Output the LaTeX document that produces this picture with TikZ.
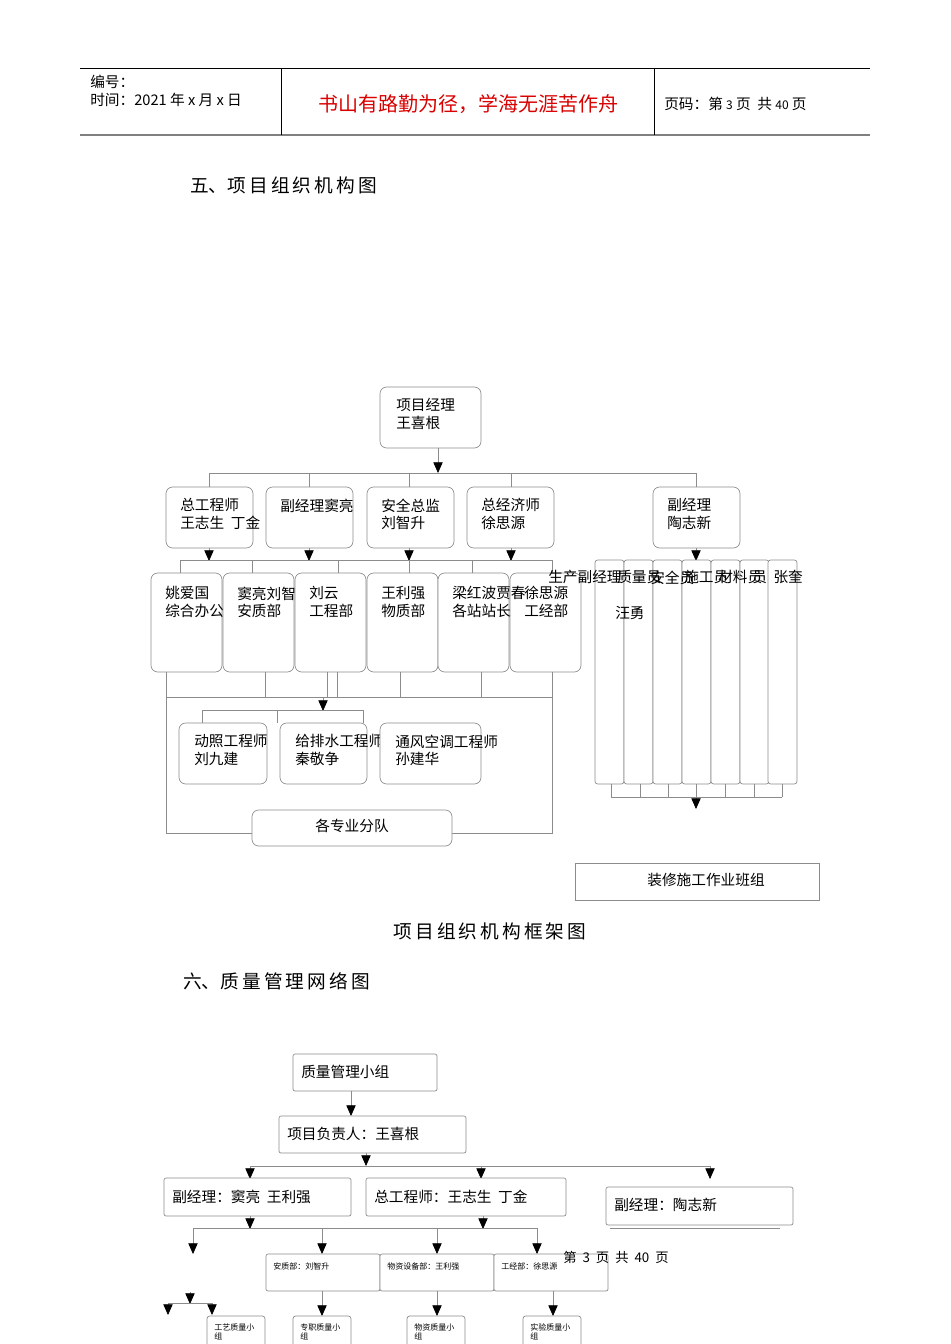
\documentclass[tikz,border=0pt]{standalone}
\usepackage{fontspec}
\setmainfont{Liberation Sans}
\newfontfamily\cjk{Noto Sans CJK SC}
\usetikzlibrary{arrows.meta}
\definecolor{ln}{gray}{0.55}
\tikzset{
  x=0.75pt,y=-0.75pt,
  every node/.style={font=\cjk\fontsize{11}{13}\selectfont},
  rbox/.style={draw=ln,fill=white,rounded corners=5pt,line width=0.5pt},
  sbox/.style={draw=ln,fill=white,line width=0.5pt},
  wire/.style={draw=ln,line width=0.5pt},
  arr/.style={draw=ln,line width=0.5pt,-{Triangle[width=7pt,length=8pt,fill=black,color=black]}},
  lbl/.style={anchor=north west,inner sep=0pt,align=left,yshift=-2.5pt},
  tiny/.style={anchor=north west,inner sep=0pt,align=left,font=\cjk\fontsize{6}{7}\selectfont},
}
\begin{document}
\begin{tikzpicture}
\useasboundingbox (0,0) rectangle (950,1344);
% header
\draw[line width=0.6pt] (80,68) -- (870,68);
\draw[line width=1.2pt,gray] (80,135) -- (870,135);
\draw[line width=0.5pt] (281,68) -- (281,135) (654,68) -- (654,135);
\node[lbl] (h1) at (90,71) {编号：};
\node[lbl] (h2) at (90,90) {时间：2021 年 x 月 x 日};
\node[font=\cjk\fontsize{15}{17}\selectfont,text=red!85!black] (h3) at (468,104) {书山有路勤为径，学海无涯苦作舟};
\node[lbl] (h4) at (664,94) {页码：第 {\fontsize{9}{10}\selectfont 3} 页\ \ 共 {\fontsize{9}{10}\selectfont 40} 页};
\node[lbl,font=\cjk\fontsize{14}{16}\selectfont] (t1) at (190,173) {五、项\,目\,组\,织\,机\,构\,图};

% chart 1
\draw[rbox] (380,387) rectangle (481,448);
\node[lbl] (pm) at (396,395) {项目经理\\王喜根};
\draw[arr] (438,448) -- (438,473);
\draw[wire] (209,473) -- (696,473);
\foreach \x in {209,309,409,511,696} \draw[wire] (\x,473) -- (\x,487);
\foreach \a/\t [count=\i] in {166/{总工程师\\王志生\ \ 丁金},266/{副经理窦亮},367/{安全总监\\刘智升},467/{总经济师\\徐思源},653/{副经理\\陶志新}}{
  \draw[rbox] (\a,487) rectangle ++(87,61);
  \node[lbl] (l2\i) at (\a+14,495) {\t};
}
\foreach \x in {209,309,409,511} \draw[arr] (\x,548) -- (\x,561);
\draw[wire] (180,560) -- (552,560);
\foreach \x in {180,252,338,409,472,552} \draw[wire] (\x,560) -- (\x,573);
\foreach \a/\t in {151/{姚爱国\\综合办公},223/{窦亮刘智\\安质部},295/{刘云\\工程部},367/{王利强\\物质部},438/{梁红波贾春\\各站站长}}{
  \draw[rbox] (\a,573) rectangle ++(71,99);
  \node[lbl] at (\a+14,583) {\t};
}
\draw[rbox,fill=none] (510,573) rectangle ++(71,99);
\node[lbl] at (524,583) {徐思源\\工经部};
\foreach \x in {166,265,327,337,400,481,552} \draw[wire] (\x,672) -- (\x,697);
\draw[wire] (166,697) -- (552,697);
\draw[wire] (166,672) -- (166,833) -- (252,833);
\draw[wire] (552,672) -- (552,833) -- (452,833);
\draw[arr] (323,697) -- (323,711);
\draw[wire] (202,710) -- (363,710);
\foreach \x in {202,277,363} \draw[wire] (\x,710) -- (\x,723);
\foreach \a/\w/\t in {179/88/{动照工程师\\刘九建},280/87/{给排水工程师\\秦敬争},380/101/{通风空调工程师\\孙建华}}{
  \draw[rbox] (\a,723) rectangle ++(\w,61);
  \node[lbl] at (\a+15,731) {\t};
}
\draw[rbox] (252,810) rectangle (452,846);
\node (fd) at (352,826) {各专业分队};

% right column
\draw[arr] (696,548) -- (696,561);
\foreach \a in {595,624,653,682,711,740,768} \draw[rbox,rounded corners=2pt] (\a,560) rectangle ++(29,224);
\node[lbl] at (548,567) {生产副经理};
\node[lbl] at (617,567) {质量员};
\node[lbl] at (650,567) {安全员};
\node[lbl] at (684,567) {施工员};
\node[lbl] at (718,567) {材料员};
\node[lbl] at (752,567) {员\ \ 张奎};
\node[lbl] at (615,603) {汪勇};
\foreach \x in {611,640,668,696,725,754,782} \draw[wire] (\x,784) -- (\x,797);
\draw[wire] (611,797) -- (782,797);
\draw[arr] (696,784) -- (696,809);
\draw[sbox] (575,863) rectangle (819,900);
\node (zx) at (706,880) {装修施工作业班组};
\node[font=\cjk\fontsize{14}{16}\selectfont] (cap) at (490,931) {项\,目\,组\,织\,机\,构\,框\,架\,图};
\node[lbl,font=\cjk\fontsize{14}{16}\selectfont] (t2) at (183,969) {六、质\,量\,管\,理\,网\,络\,图};

% chart 2
\draw[sbox,rounded corners=1.5pt] (293,1054) rectangle (437,1091);
\node[lbl] at (301,1062) {质量管理小组};
\draw[arr] (351,1091) -- (351,1116);
\draw[sbox,rounded corners=1.5pt] (279,1116) rectangle (466,1153);
\node[lbl] at (287,1124) {项目负责人：王喜根};
\draw[arr] (366,1153) -- (366,1166);
\draw[wire] (250,1166) -- (710,1166);
\foreach \x in {250,481,710} \draw[arr] (\x,1166) -- (\x,1179);
\draw[sbox,rounded corners=1.5pt] (164,1178) rectangle (351,1216);
\node[lbl] at (172,1186) {副经理：窦亮\ \ 王利强};
\draw[sbox,rounded corners=1.5pt] (366,1178) rectangle (566,1216);
\node[lbl] at (374,1186) {总工程师：王志生\ \ 丁金};
\draw[sbox,rounded corners=1.5pt] (606,1187) rectangle (793,1225);
\node[lbl] at (614,1195) {副经理：陶志新};
\draw[wire] (610,1228) -- (780,1228);
\draw[arr] (250,1216) -- (250,1229);
\draw[arr] (483,1216) -- (483,1229);
\draw[wire] (193,1228) -- (537,1228);
\foreach \x in {193,322,437,537} \draw[arr] (\x,1228) -- (\x,1254);
\foreach \a/\t in {266/{安质部：刘智升},380/{物资设备部：王利强},494/{工经部：徐思源}}{
  \draw[sbox,rounded corners=1.5pt] (\a,1254) rectangle ++(114,37);
  \node[tiny] at (\a+7,1262) {\t};
}
\node[lbl,font=\cjk\fontsize{10}{12}\selectfont] at (563,1248) {第\ \ 3\ \ 页\ \ 共\ \ 40\ \ 页};
\draw[arr] (190,1292) -- (190,1304);
\draw[wire] (168,1303) -- (212,1303);
\draw[arr] (168,1303) -- (168,1315);
\draw[arr] (212,1303) -- (212,1315);
\foreach \x in {322,437,553} \draw[arr] (\x,1291) -- (\x,1316);
\foreach \a/\t in {207/{工艺质量小\\组},293/{专职质量小\\组},407/{物资质量小\\组},523/{实验质量小\\组}}{
  \draw[rbox,rounded corners=2pt] (\a,1316) rectangle ++(58,40);
  \node[tiny] at (\a+7,1323) {\t};
}
\end{tikzpicture}
\end{document}
